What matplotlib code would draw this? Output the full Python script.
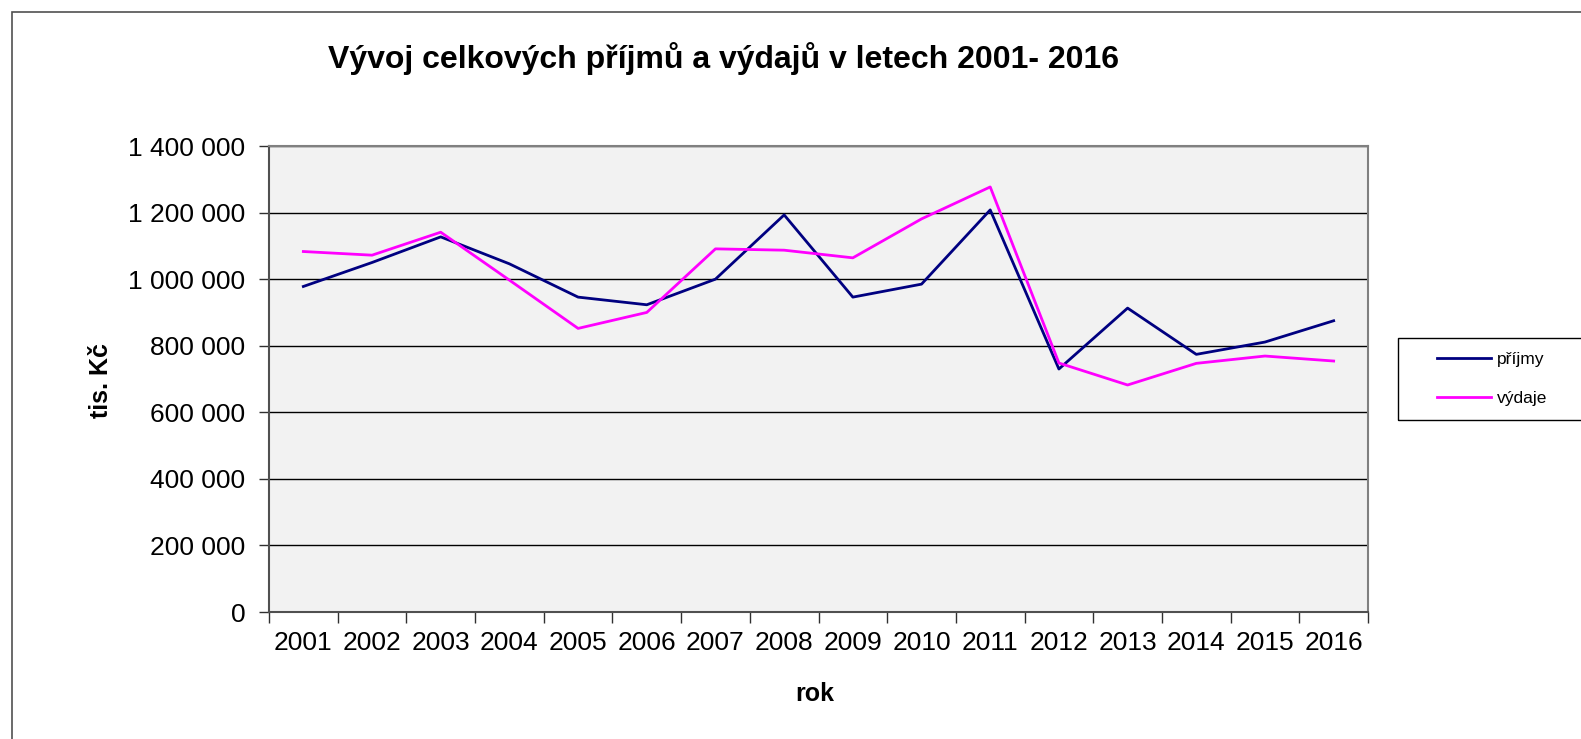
import matplotlib
matplotlib.use("Agg")
import matplotlib.pyplot as plt
from matplotlib.patches import Rectangle
from matplotlib.ticker import FuncFormatter, MultipleLocator, FixedLocator
import numpy as np

plt.rcParams['font.family'] = ['Liberation Sans', 'DejaVu Sans']

years = ["2001", "2002", "2003", "2004", "2005", "2006", "2007", "2008",
         "2009", "2010", "2011", "2012", "2013", "2014", "2015", "2016"]
prijmy = [978000, 1050000, 1127000, 1046000, 946000, 923000, 1000000, 1193000,
          946000, 985000, 1208000, 730000, 913000, 774000, 811000, 875000]
vydaje = [1083000, 1072000, 1141000, 997000, 852000, 900000, 1091000, 1087000,
          1064000, 1181000, 1277000, 748000, 682000, 747000, 769000, 754000]

W, H = 1581, 739
fig = plt.figure(figsize=(W / 100, H / 100), dpi=100)
fig.patch.set_facecolor('white')

# outer chart border
fig.patches.append(Rectangle((12 / W, -0.05), 1.1, 1 - 12 / H + 0.05,
                             transform=fig.transFigure, fill=False,
                             edgecolor='#505050', lw=1.2, clip_on=False))

ax = fig.add_axes([269 / W, 1 - 612 / H, (1368 - 269) / W, (612 - 146) / H])
ax.set_facecolor('#F2F2F2')

x = np.arange(len(years))
ax.plot(x, prijmy, color='#000080', lw=2.0, label='příjmy', zorder=3)
ax.plot(x, vydaje, color='#FF00FF', lw=2.0, label='výdaje', zorder=3)

ax.set_xlim(-0.5, len(years) - 0.5)
ax.set_ylim(0, 1400000)

ax.yaxis.set_major_locator(MultipleLocator(200000))
ax.yaxis.set_major_formatter(FuncFormatter(lambda v, p: f"{int(v):,}".replace(",", " ")))
ax.yaxis.grid(True, color='black', lw=1.0)
ax.set_axisbelow(True)

ax.xaxis.set_major_locator(FixedLocator(x))
ax.set_xticklabels(years)
ax.xaxis.set_minor_locator(FixedLocator(np.arange(-0.5, len(years), 1.0)))
ax.tick_params(axis='x', which='major', length=0, pad=14, labelsize=19)
ax.tick_params(axis='x', which='minor', length=8, width=1, color='#303030', direction='out')
ax.tick_params(axis='y', which='major', length=7, width=1, color='#303030', direction='out',
               labelsize=19, pad=10)

for s in ['left', 'bottom']:
    ax.spines[s].set_color('#505050')
    ax.spines[s].set_linewidth(1.5)
for s in ['top', 'right']:
    ax.spines[s].set_color('#808080')
    ax.spines[s].set_linewidth(1.5)

fig.text(723 / W, 1 - 59 / H, "Vývoj celkových příjmů a výdajů v letech 2001- 2016",
         ha='center', va='center', fontsize=23, fontweight='bold')
fig.text(101 / W, 1 - 381 / H, "tis. Kč", ha='center', va='center', rotation=90,
         fontsize=18, fontweight='bold')
fig.text(815 / W, 1 - 694 / H, "rok", ha='center', va='center',
         fontsize=18, fontweight='bold')

# legend frame
fig.patches.append(Rectangle((1398 / W, 1 - 420 / H), 0.2, (420 - 338) / H,
                             transform=fig.transFigure, fill=False,
                             edgecolor='black', lw=1.0, clip_on=False))
leg = fig.legend(loc='upper left', bbox_to_anchor=(1437 / W, 1 - 352 / H),
                 frameon=False, fontsize=12.5, handlelength=3.1, handletextpad=0.35,
                 labelspacing=1.35, borderpad=0, borderaxespad=0)

fig.savefig("out.png", dpi=100)
